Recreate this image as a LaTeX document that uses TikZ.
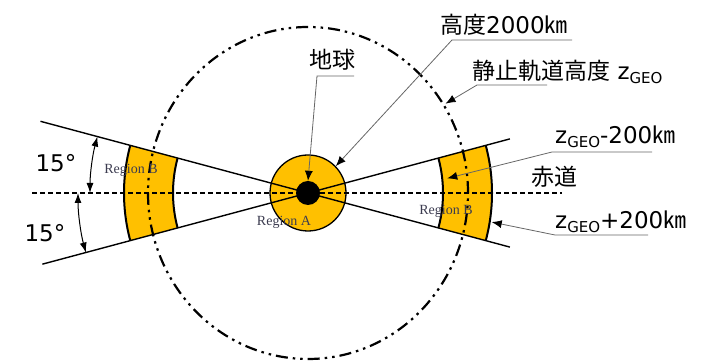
\documentclass[tikz,border=0pt]{standalone}
\usepackage{fontspec}
\setmainfont{DejaVu Sans}
\newfontfamily\jpf{Noto Sans CJK JP}
\newfontfamily\serifrg{Liberation Serif}
\usetikzlibrary{arrows.meta,calc}
\definecolor{gold}{HTML}{FFC000}
\definecolor{regtext}{HTML}{3C3C50}
\newcommand{\zgeo}{z\raisebox{-0.32ex}{\fontsize{15}{15}\selectfont GEO}}
\tikzset{
  lbl/.style={font=\fontsize{23}{23}\selectfont, inner sep=0pt},
  reg/.style={font=\serifrg\fontsize{14}{14}\selectfont, text=regtext, inner sep=0pt},
  leader/.style={draw=black!60, line width=0.8pt, -{Latex[length=10pt,width=8pt,color=black]}},
  cone/.style={line width=1.4pt},
  arcedge/.style={line width=2pt},
  geo/.style={line width=2.2pt, dash pattern=on 12pt off 5pt on 2.5pt off 5pt on 2.5pt off 5pt},
  equator/.style={line width=1.1pt, dash pattern=on 5pt off 3pt},
  angarrow/.style={line width=1pt, {Latex[length=10pt,width=7pt]}-{Latex[length=10pt,width=7pt]}}
}
\begin{document}
\begin{tikzpicture}[x=1pt,y=1pt]
\useasboundingbox (0,0) rectangle (717,363);
\coordinate (C) at (308,170);
\begin{scope}[shift={(C)}]
  % Region B fills
  \fill[gold] (165:135pt) arc[start angle=165,end angle=195,radius=135pt] -- (195:184pt) arc[start angle=195,end angle=165,radius=184pt] -- cycle;
  \fill[gold] (-15:135pt) arc[start angle=-15,end angle=15,radius=135pt] -- (15:184pt) arc[start angle=15,end angle=-15,radius=184pt] -- cycle;
  \draw[arcedge] (165:135pt) arc[start angle=165,end angle=195,radius=135pt];
  \draw[arcedge] (165:184pt) arc[start angle=165,end angle=195,radius=184pt];
  \draw[arcedge] (-15:135pt) arc[start angle=-15,end angle=15,radius=135pt];
  \draw[arcedge] (-15:184pt) arc[start angle=-15,end angle=15,radius=184pt];
  % named coordinates
  \coordinate (coneA1) at (165:277pt);
  \coordinate (coneA2) at (-15:209pt);
  \coordinate (coneB1) at (195:275pt);
  \coordinate (coneB2) at (15:209pt);
  \coordinate (eqL) at (-276,0);
  \coordinate (eqR) at (254,0);
  \coordinate (geoTip) at (33:164pt);
  \coordinate (innerTip) at (6:140pt);
  \coordinate (outerTip) at (-9:186pt);
  \coordinate (a1s) at (165:218pt);
  \coordinate (a2s) at (180:230pt);
\end{scope}
% Earth ring
\node[circle, draw, fill=gold, minimum size=76pt, line width=1.3pt, inner sep=0pt] (ring) at (C) {};
% cone lines and equator
\draw[cone] (coneA1) -- (coneA2);
\draw[cone] (coneB1) -- (coneB2);
\draw[equator] (eqL) -- (eqR);
% earth
\node[circle, fill=black, minimum size=24pt, inner sep=0pt] (earth) at (C) {};
% GEO circle
\draw[geo] (C) ellipse[x radius=160pt, y radius=166pt];
% angle arrows
\draw[angarrow] (a1s) arc[start angle=165,end angle=180,radius=218pt];
\draw[angarrow] (a2s) arc[start angle=180,end angle=195,radius=230pt];
% region labels
\node[reg] (rbl) at (131,193) {Region B};
\node[reg] (rbr) at (446,152) {Region B};
\node[reg] (ra) at (284,141) {Region A};
% angle labels
\node[lbl] (d1) at (56,200) {15°};
\node[lbl] (d2) at (45,130) {15°};
% main labels
\node[lbl, anchor=west] (l1) at (440,338) {{\jpf 高度}2000{\jpf ㎞}};
\node[lbl, anchor=west] (l2) at (472,291) {{\jpf 静止軌道高度} \zgeo};
\node[lbl] (l3) at (332,303) {\jpf 地球};
\node[lbl, anchor=west] (l4) at (555,226) {\zgeo-200{\jpf ㎞}};
\node[lbl] (l5) at (554,186) {\jpf 赤道};
\node[lbl, anchor=west] (l6) at (555,141) {\zgeo+200{\jpf ㎞}};
% underline coordinates
\coordinate (u1e) at (572,323); \coordinate (u1s) at (452,323);
\coordinate (u2e) at (547,278); \coordinate (u2s) at (477,278);
\coordinate (u3e) at (354,287); \coordinate (u3s) at (317,287);
\coordinate (u4e) at (652,211); \coordinate (u4s) at (552,211);
\coordinate (u6e) at (648,128); \coordinate (u6s) at (555,128);
% leaders
\draw[leader] (u1e) -- (u1s) -- (ring.44);
\draw[leader] (u2e) -- (u2s) -- (geoTip);
\draw[leader] (u3e) -- (u3s) -- (earth.north);
\draw[leader] (u4e) -- (u4s) -- (innerTip);
\draw[leader] (u6e) -- (u6s) -- (outerTip);
\end{tikzpicture}
\end{document}
